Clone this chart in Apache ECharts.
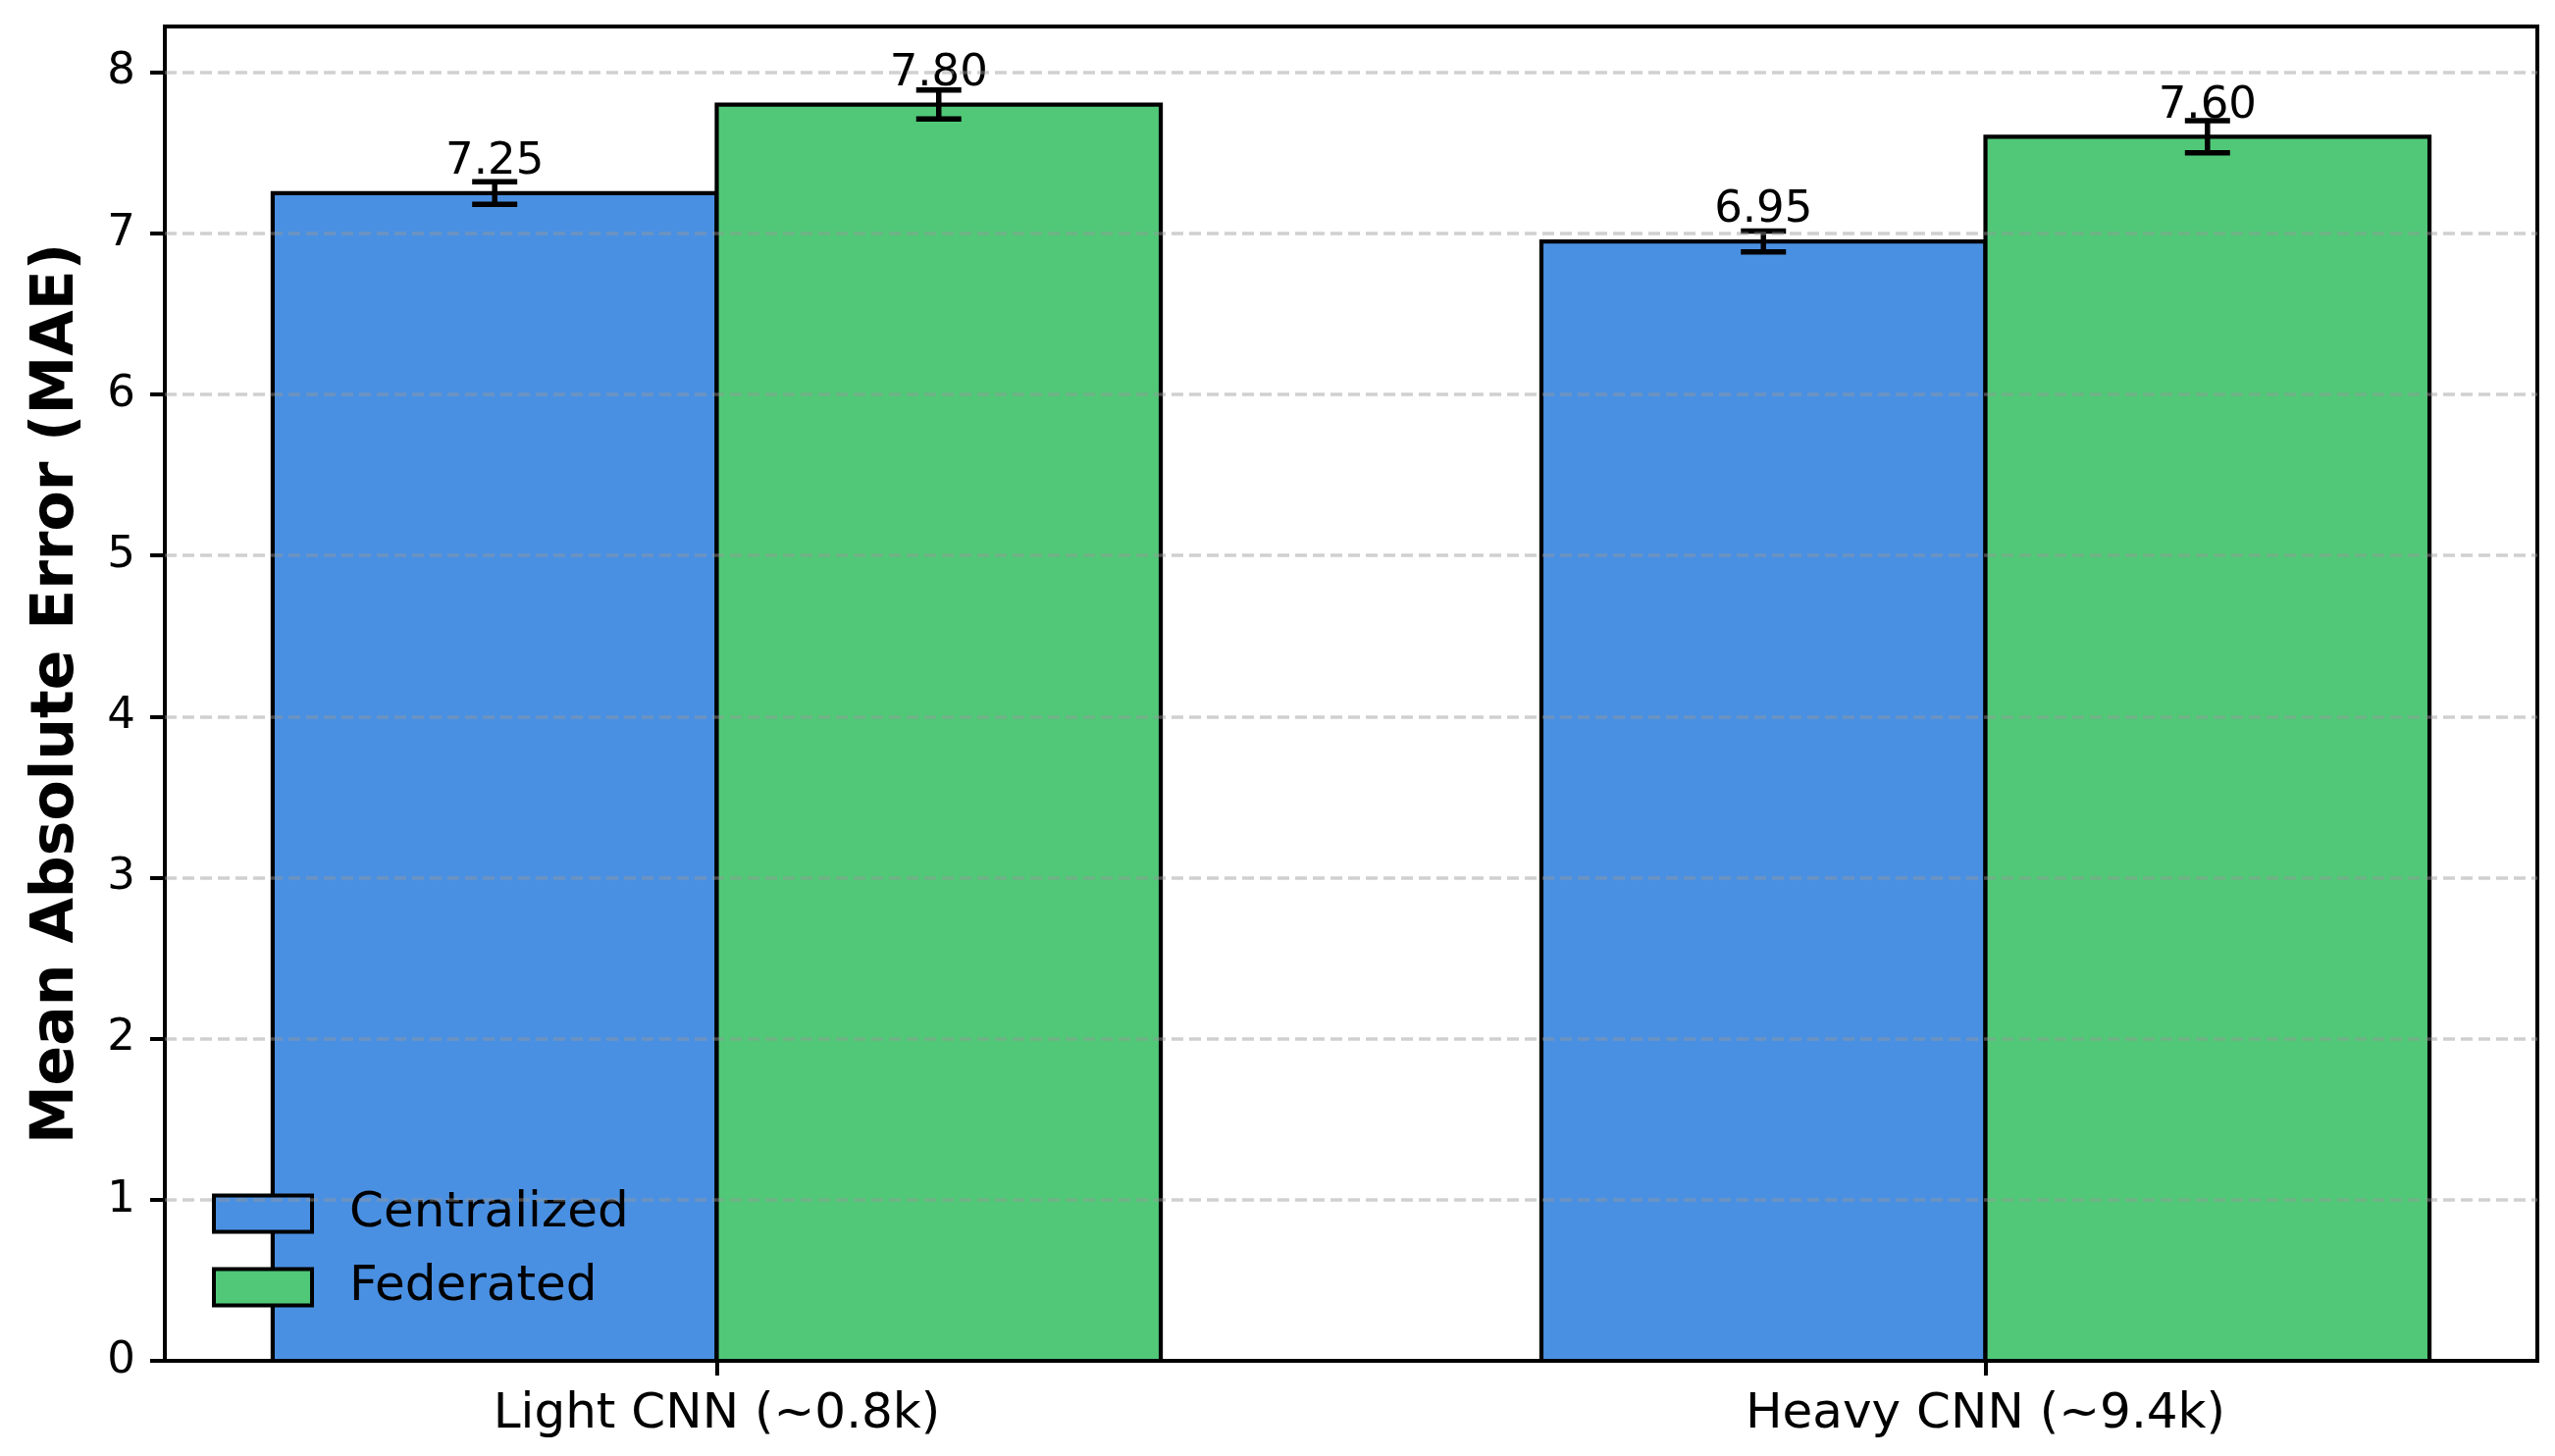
<!DOCTYPE html>
<html>
<head>
<meta charset="utf-8">
<title>MAE comparison</title>
<script src="https://cdn.jsdelivr.net/npm/echarts@6.0.0/dist/echarts.min.js"></script>
<style>
  html, body { margin: 0; padding: 0; background: #fff; }
  #main { width: 2604px; height: 1484px; }
</style>
</head>
<body>
<div id="main"></div>
<script>
const categories = ["Light CNN (~0.8k)", "Heavy CNN (~9.4k)"];
const seriesNames = ["Centralized", "Federated"];
const centralized = [7.25, 6.95];
const centralizedErr = [0.07, 0.065];
const federated = [7.8, 7.6];
const federatedErr = [0.09, 0.1];
const yTicks = [0, 1, 2, 3, 4, 5, 6, 7, 8];

const barWidth = 0.35;
const colors = ["#4A90E2", "#50C878"];
const font = "DejaVu Sans";

const chart = echarts.init(document.getElementById("main"));

function barData(values, offset) {
  return values.map((v, i) => [i + offset, v]);
}

function errData(values, errs, offset) {
  return values.map((v, i) => [i + offset, v, errs[i]]);
}

function renderBar(params, api) {
  const x = api.value(0);
  const v = api.value(1);
  const p0 = api.coord([x - barWidth / 2, v]);
  const p1 = api.coord([x + barWidth / 2, 0]);
  return {
    type: "rect",
    shape: { x: p0[0], y: p0[1], width: p1[0] - p0[0], height: p1[1] - p0[1] },
    style: { fill: colors[params.seriesIndex], stroke: "#000", lineWidth: 4.2 },
  };
}

function renderErr(params, api) {
  const x = api.value(0);
  const v = api.value(1);
  const e = api.value(2);
  const top = api.coord([x, v + e]);
  const bot = api.coord([x, v - e]);
  const barTop = api.coord([x, v]);
  const cap = 23;
  const line = { stroke: "#000", lineWidth: 5.5 };
  return {
    type: "group",
    children: [
      { type: "line", shape: { x1: top[0], y1: top[1], x2: bot[0], y2: bot[1] }, style: line },
      { type: "line", shape: { x1: top[0] - cap, y1: top[1], x2: top[0] + cap, y2: top[1] }, style: line },
      { type: "line", shape: { x1: bot[0] - cap, y1: bot[1], x2: bot[0] + cap, y2: bot[1] }, style: line },
      {
        type: "text",
        x: barTop[0],
        y: barTop[1] - 9,
        z2: 10,
        style: {
          text: v.toFixed(2),
          fontFamily: font,
          fontSize: 45,
          fill: "#000",
          align: "center",
          verticalAlign: "bottom",
        },
      },
    ],
  };
}

const option = {
  backgroundColor: "#fff",
  animation: false,
  textStyle: { fontFamily: font },
  grid: {
    left: 168,
    right: 18,
    top: 27,
    bottom: 97,
    show: true,
    borderColor: "#000",
    borderWidth: 4,
    outerBoundsMode: "none",
  },
  legend: {
    orient: "vertical",
    left: 211,
    top: 1204,
    icon: "rect",
    itemWidth: 100,
    itemHeight: 37,
    itemGap: 19,
    data: seriesNames,
    itemStyle: { borderColor: "#000", borderWidth: 4 },
    textStyle: {
      fontFamily: font,
      fontSize: 50,
      lineHeight: 50,
      color: "#000",
      padding: [6, 0, 0, 33],
    },
  },
  xAxis: {
    type: "value",
    min: -0.435,
    max: 1.435,
    splitLine: { show: false },
    axisLine: { show: true, onZero: false, lineStyle: { color: "#000", width: 4 } },
    axisTick: {
      show: true,
      customValues: [0, 1],
      length: 15,
      lineStyle: { color: "#000", width: 4 },
    },
    axisLabel: {
      customValues: [0, 1],
      formatter: (v) => categories[Math.round(v)],
      fontFamily: font,
      fontSize: 50,
      color: "#000",
      margin: 30,
    },
  },
  yAxis: {
    type: "value",
    min: 0,
    max: 8.2845,
    name: "Mean Absolute Error (MAE)",
    nameLocation: "middle",
    nameRotate: 90,
    nameGap: 80,
    nameTextStyle: { fontFamily: font, fontSize: 60, fontWeight: "bold", color: "#000" },
    splitLine: { show: false },
    axisLine: { show: true, onZero: false, lineStyle: { color: "#000", width: 4 } },
    axisTick: {
      show: true,
      customValues: yTicks,
      length: 15,
      lineStyle: { color: "#000", width: 4 },
    },
    axisLabel: {
      customValues: yTicks,
      fontFamily: font,
      fontSize: 45,
      color: "#000",
      margin: 30,
    },
  },
  series: [
    {
      name: seriesNames[0],
      type: "custom",
      itemStyle: { color: colors[0] },
      renderItem: renderBar,
      data: barData(centralized, -barWidth / 2),
      z: 2,
    },
    {
      name: seriesNames[1],
      type: "custom",
      itemStyle: { color: colors[1] },
      renderItem: renderBar,
      data: barData(federated, barWidth / 2),
      z: 2,
    },
    {
      // 网格线画在柱子上面
      name: "grid",
      type: "custom",
      renderItem: () => null,
      data: [],
      z: 3,
      markLine: {
        silent: true,
        symbol: "none",
        label: { show: false },
        lineStyle: { color: "rgba(150,150,150,0.45)", width: 3.5, type: [12, 6] },
        data: yTicks.filter((t) => t > 0).map((t) => ({ yAxis: t })),
      },
    },
    {
      name: "errC",
      type: "custom",
      renderItem: renderErr,
      data: errData(centralized, centralizedErr, -barWidth / 2),
      z: 4,
    },
    {
      name: "errF",
      type: "custom",
      renderItem: renderErr,
      data: errData(federated, federatedErr, barWidth / 2),
      z: 4,
    },
  ],
};

chart.setOption(option);
</script>
</body>
</html>
